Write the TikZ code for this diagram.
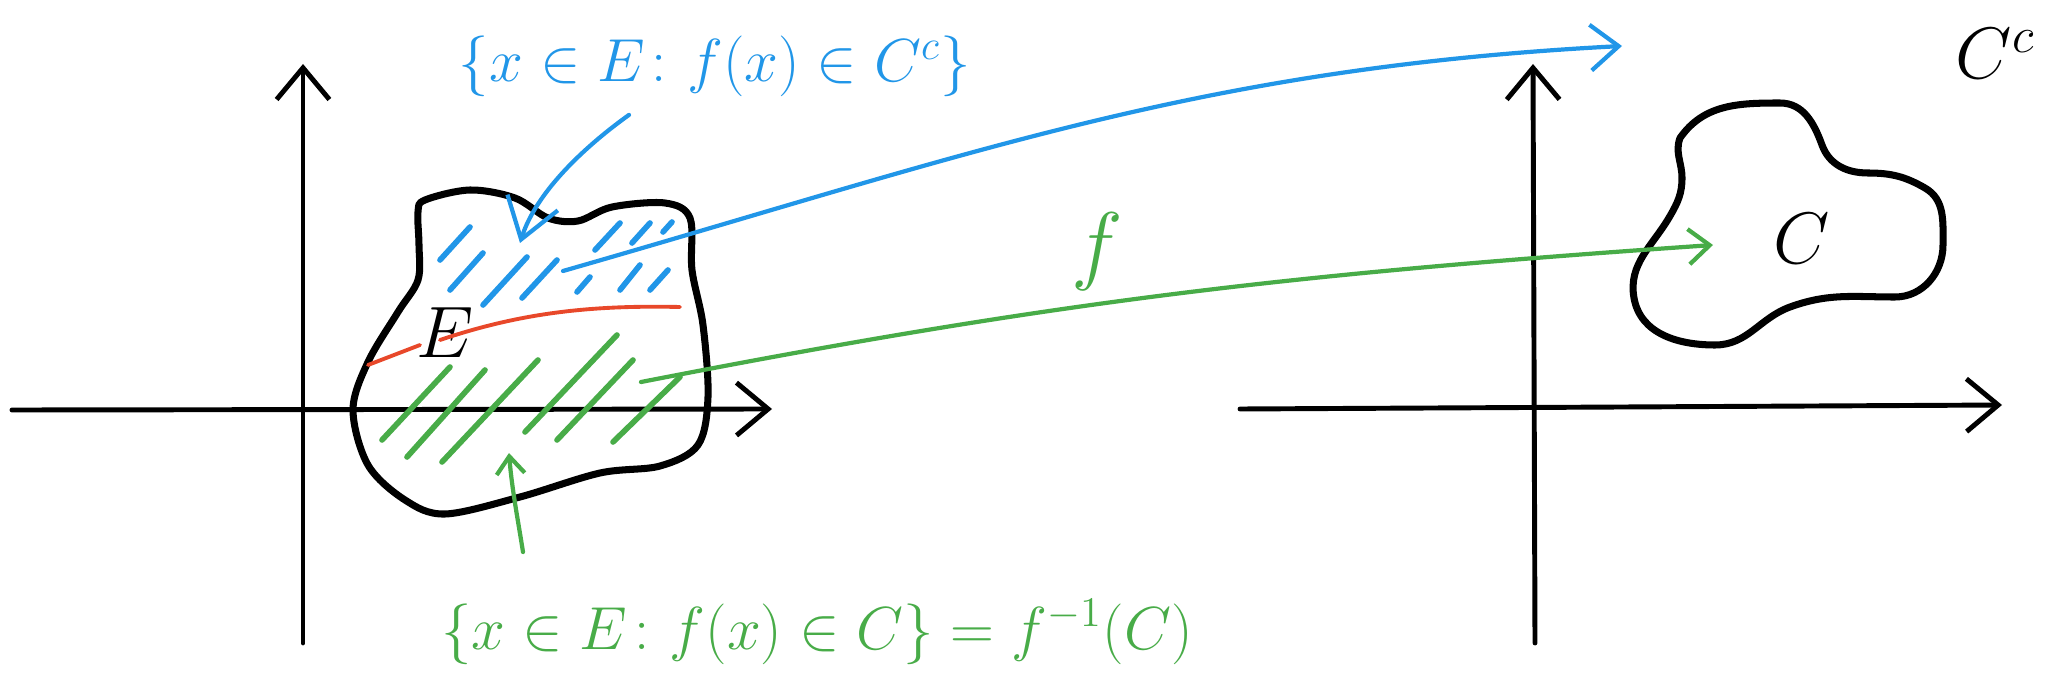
\documentclass[tikz,border=0pt]{standalone}
\usepackage{amsmath}
\usetikzlibrary{arrows.meta,calc}
\definecolor{penblue}{RGB}{33,150,232}
\definecolor{pengreen}{RGB}{72,172,72}
\definecolor{penred}{RGB}{232,72,42}

\begin{document}
\begin{tikzpicture}[x=0.01cm, y=-0.01cm, line cap=round, line join=round,
    axis/.style={line width=1.4pt, -{Straight Barb[length=9pt,width=15pt]}},
    blob/.style={line width=2pt},
    hatchB/.style={penblue, line width=1.6pt},
    hatchG/.style={pengreen, line width=1.6pt},
    mapB/.style={penblue, line width=1.2pt, -{Straight Barb[length=8pt,width=13pt]}},
    mapG/.style={pengreen, line width=1.2pt, -{Straight Barb[length=6pt,width=10pt]}},
    lbl/.style={inner sep=0pt, font=\fontsize{16.5}{20}\selectfont}]
    \useasboundingbox (0,0) rectangle (2051,688);

    % ── left plane ───────────────────────────────────────────────
    \draw[axis] (12,410) -- (772,409);
    \draw[axis] (303,643) -- (303,64);

    % set E
    \draw[blob] plot[smooth cycle, tension=0.55] coordinates {
      (425,200) (470,190) (515,198) (548,218) (578,221) (612,207)
      (665,203) (690,218) (692,270) (703,325) (708,397) (698,445)
      (660,466) (600,473) (520,497) (445,514) (405,500) (368,465)
      (353,410) (368,362) (398,312) (418,280) (419,245) (418,212)};
    \node[font=\fontsize{21}{24}\selectfont] (setE) at (445,333) {$E$};

    % preimage of C^c (blue) and of C (green)
    \foreach \a/\b/\c/\d in {470/227/440/260, 483/253/450/290, 527/257/483/305,
        557/260/522/298, 620/223/595/250, 650/223/632/243, 672/222/663/232,
        590/277/577/292, 640/265/620/290, 668/270/650/290}
      \draw[hatchB] (\a,\b) -- (\c,\d);
    \foreach \a/\b/\c/\d in {450/367/382/440, 485/370/407/457, 538/360/442/462,
        617/335/525/432, 633/360/557/440, 680/377/613/442}
      \draw[hatchG] (\a,\b) -- (\c,\d);

    % boundary between the two parts
    \draw[penred, line width=1.1pt] (368,365) -- (420,345);
    \draw[penred, line width=1.1pt] (440,340) .. controls (520,313) and (590,305) .. (680,307);

    % ── right plane ──────────────────────────────────────────────
    \draw[axis] (1240,409) -- (2002,405);
    \draw[axis] (1535,643) -- (1533,64);

    % set C
    \draw[blob] (1680,138) to[out=55,in=180] (1780,103)
      to[out=0,in=110] (1822,145) to[out=-70,in=180] (1868,173)
      to[out=0,in=150] (1925,188) to[out=-30,in=90] (1943,245)
      to[out=-90,in=0] (1895,297) to[out=180,in=20] (1790,307)
      to[out=200,in=0] (1715,345) to[out=180,in=-80] (1634,298)
      to[out=100,in=240] (1670,216) to[out=60,in=270] (1682,178)
      to[out=90,in=250] cycle;
    \node[font=\fontsize{21}{24}\selectfont] (setC) at (1802,239) {$C$};
    \node[font=\fontsize{21}{24}\selectfont, anchor=base west, inner sep=0pt]
      (compl) at (1955,79) {$C^c$};

    % ── the map f ────────────────────────────────────────────────
    \coordinate (fromB) at (563,271);
    \coordinate (toB) at (1622,46);
    \coordinate (fromG) at (641,382);
    \coordinate (toG) at (1713,245);
    \draw[mapB] (fromB) .. controls (971,154) and (1199,68) .. (toB);
    \draw[mapG] (fromG) .. controls (1056,301) and (1291,274) .. (toG);
    \node[text=pengreen, font=\fontsize{26}{30}\selectfont] (fmap) at (1097,252) {$f$};

    % labels
    \node[lbl, text=penblue, anchor=base] (setB) at (715,82)
      {$\{x\in E\colon f(x)\in C^c\}$};
    \node[lbl, text=pengreen, anchor=base] (setG) at (817,649)
      {$\{x\in E\colon f(x)\in C\} = f^{-1}(C)$};
    \coordinate (tipB) at (520,243);
    \coordinate (tipG) at (509,453);
    \draw[penblue, line width=1.2pt, -{Straight Barb[length=11pt,width=15pt]}]
      ([shift={(-86,17)}]setB.south) .. controls (580,150) and (535,195) .. (tipB);
    \draw[pengreen, line width=1.2pt, -{Straight Barb[length=5pt,width=8pt]}]
      ([shift={(-294,-47)}]setG.north) .. controls (518,520) and (512,490) .. (tipG);
\end{tikzpicture}
\end{document}
